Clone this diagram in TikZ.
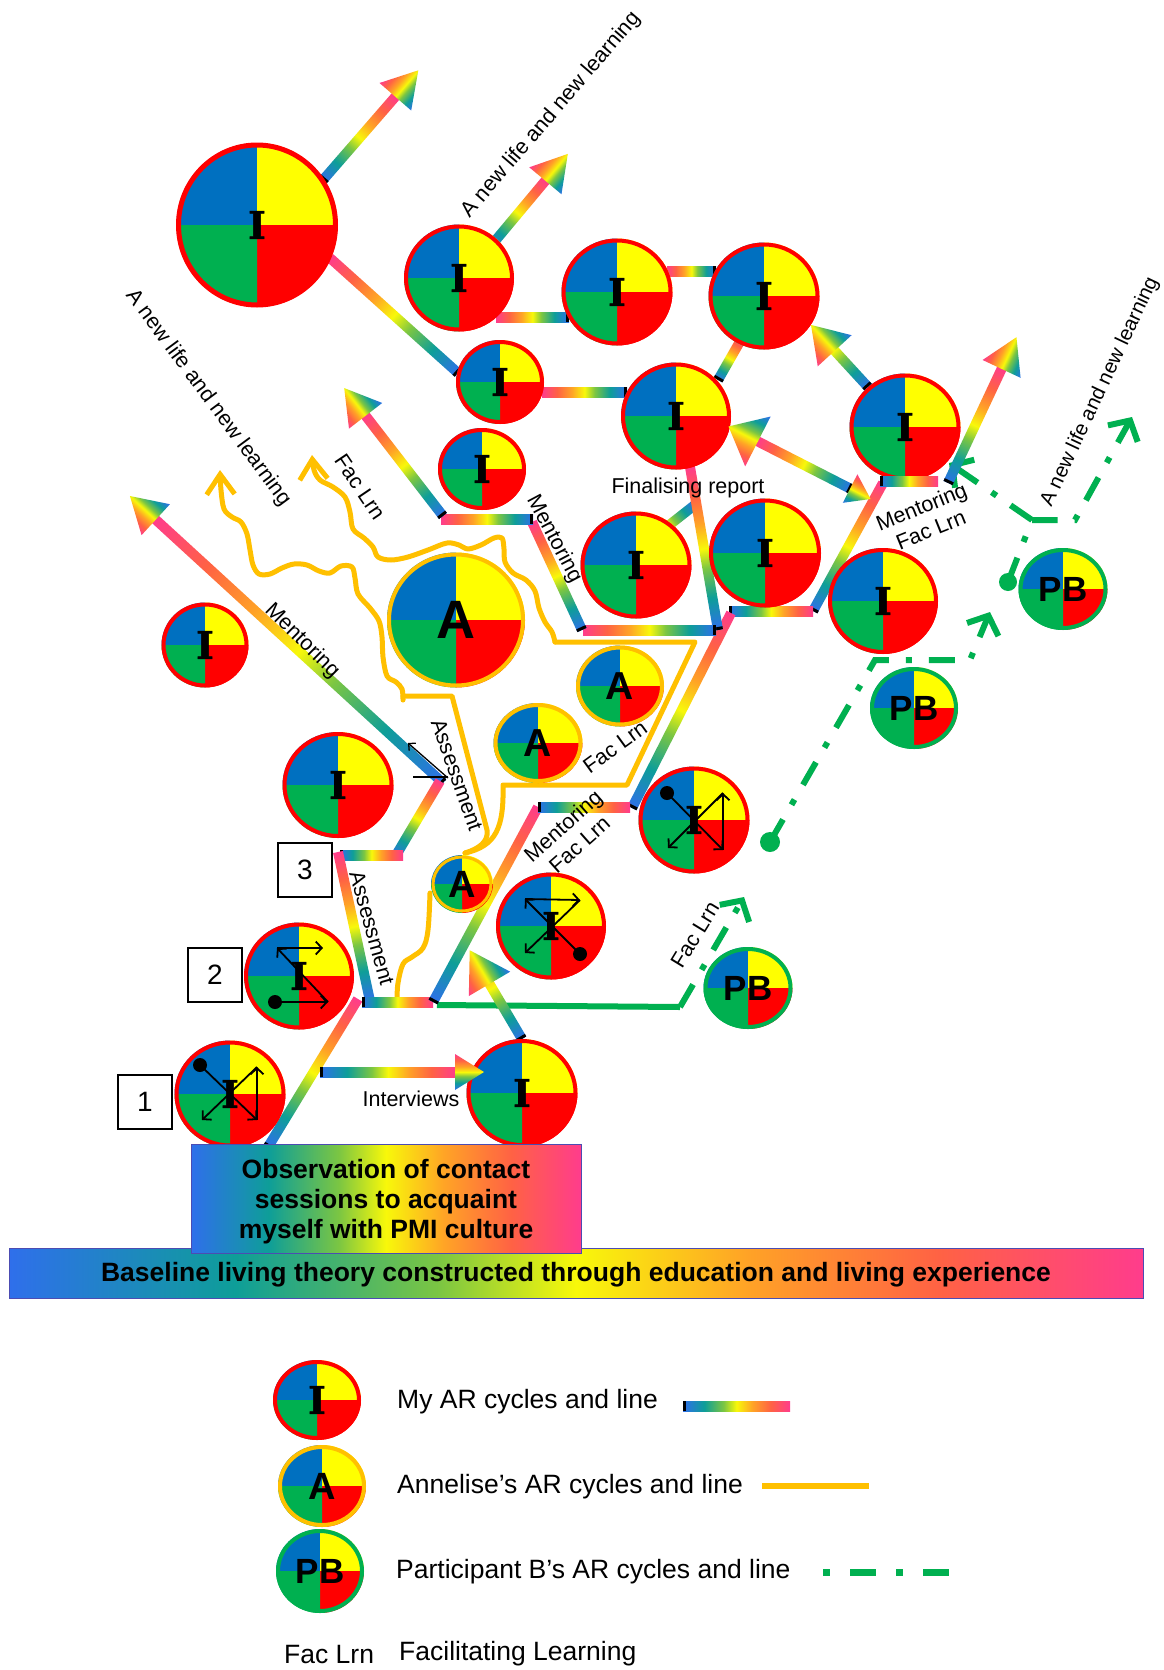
\documentclass[tikz,border=0pt]{standalone}
\usepackage{fontspec}
\setmainfont{Liberation Sans}
\newfontfamily\ifont{DejaVu Serif}[FakeBold=1.6]
\usetikzlibrary{calc,arrows.meta}
\definecolor{qB}{HTML}{0070C0}
\definecolor{qY}{HTML}{FFFF00}
\definecolor{qR}{HTML}{FF0000}
\definecolor{qG}{HTML}{00B050}
\definecolor{annO}{HTML}{FFC000}
\definecolor{pbG}{HTML}{00B050}
\definecolor{rbB}{HTML}{2F6FEB}
\definecolor{rbT}{HTML}{0E9E98}
\definecolor{rbG}{HTML}{7CC642}
\definecolor{rbY}{HTML}{F8F80A}
\definecolor{rbO}{HTML}{FFA326}
\definecolor{rbR}{HTML}{FF6244}
\definecolor{rbP}{HTML}{FF3C8C}
\pgfdeclarehorizontalshading{rainbow}{100bp}{color(0bp)=(rbB); color(25bp)=(rbB); color(35bp)=(rbT); color(44bp)=(rbG); color(50bp)=(rbY); color(57.5bp)=(rbO); color(66bp)=(rbR); color(75bp)=(rbP); color(100bp)=(rbP)}
\newcommand\rbAngLen[2]{%
  \pgfpointdiff{\pgfpointanchor{#1}{center}}{\pgfpointanchor{#2}{center}}%
  \pgfgetlastxy{\rbdx}{\rbdy}%
  \pgfmathsetmacro\rbAng{atan2(\rbdy,\rbdx)}%
  \pgfmathsetmacro\rbLen{veclen(\rbdx,\rbdy)}}
% rainbow bar: [fraction of gradient shown]{blue end}{pink end}
\newcommand\rbar[3][1]{%
  \rbAngLen{#2}{#3}%
  \begin{scope}[transform canvas={shift={(#2)},rotate=\rbAng}]
    \clip (0pt,-6pt) rectangle ({\rbLen*1pt},6pt);
    \shade[shading=rainbow] (0pt,-5pt) rectangle ({\rbLen/#1*1pt},5pt);
    \fill[black] (0pt,-5pt) rectangle (3pt,5pt);
  \end{scope}}
% rainbow arrow head: {from}{base}{length}{half width}
\newcommand\rhead[4]{%
  \rbAngLen{#1}{#2}%
  \begin{scope}[transform canvas={shift={(#2)},rotate=\rbAng}]
    \shade[shading=rainbow,shading angle=90] (-1pt,-#4pt) -- (#3pt,0pt) -- (-1pt,#4pt) -- cycle;
  \end{scope}}
% quartered circle: name, x, y, rx, ry, border style, label
\newcommand\qcirc[7]{%
  \begin{scope}[shift={(#2,#3)}]
    \fill[qB] (0,0) -- (-#4,0) arc[start angle=180,end angle=270,x radius=#4,y radius=#5] -- cycle;
    \fill[qY] (0,0) -- (0,-#5) arc[start angle=270,end angle=360,x radius=#4,y radius=#5] -- cycle;
    \fill[qR] (0,0) -- (#4,0) arc[start angle=0,end angle=90,x radius=#4,y radius=#5] -- cycle;
    \fill[qG] (0,0) -- (0,#5) arc[start angle=90,end angle=180,x radius=#4,y radius=#5] -- cycle;
    \draw[#6] (0,0) ellipse[x radius=#4-2,y radius=#5-2];
  \end{scope}
  \node[inner sep=0pt,minimum width=2*#4,minimum height=2*#5] (#1) at (#2,#3) {#7};}
\newcommand\Ilab{{\ifont\bfseries\fontsize{38}{38}\selectfont I}}
\newcommand\Alab[1]{{\bfseries\fontsize{#1}{#1}\selectfont A}}
\newcommand\PBlab{{\bfseries\fontsize{35}{35}\selectfont PB}}
\begin{document}
\begin{tikzpicture}[x=1pt,y=-1pt,
  iborder/.style={draw=qR,line width=4pt},
  aborder/.style={draw=annO,line width=4pt},
  pborder/.style={draw=pbG,line width=4pt},
  annl/.style={draw=annO,line width=5pt,line join=round,line cap=round},
  pbdash/.style={draw=pbG,line width=6pt,dash pattern=on 26pt off 17pt on 6pt off 17pt},
  pbtip/.style={-{Straight Barb[length=15pt,width=34pt]}},
  antip/.style={-{Straight Barb[length=20pt,width=28pt]}},
  ic/.style={draw=black,line width=1.8pt,-{Straight Barb[length=6pt,width=13pt]}},
  lab/.style={font=\fontsize{21.5}{25}\selectfont,inner sep=0pt},
  numbox/.style={draw=black,line width=2pt,minimum size=54pt,inner sep=0pt,font=\fontsize{28}{28}\selectfont},
]
\useasboundingbox (0,0) rectangle (1163,1670);
\fill[white] (0,0) rectangle (1163,1670);

% ---------- coordinates of the rainbow connectors ----------
\coordinate (b1b) at (323,180);  \coordinate (b1p) at (396,96);
\coordinate (b2b) at (490,247);  \coordinate (b2p) at (546,180);
\coordinate (b3b) at (458,373);  \coordinate (b3p) at (330,258);
\coordinate (b4b) at (569,317);  \coordinate (b4p) at (496,317);
\coordinate (b5b) at (716,271);  \coordinate (b5p) at (667,271);
\coordinate (b6b) at (627,392);  \coordinate (b6p) at (542,392);
\coordinate (b7b) at (718,380);  \coordinate (b7p) at (742,338);
\coordinate (b8b) at (868,387);  \coordinate (b8h) at (834,350);
\coordinate (b9b) at (851,489);  \coordinate (b9p) at (757,441);
\coordinate (b10p) at (948,483); \coordinate (b10b) at (1002,368);
\coordinate (b11p) at (880,481); \coordinate (b11b) at (938,481);
\coordinate (b12p) at (813,611); \coordinate (b12b) at (883,483);
\coordinate (b13p) at (729,611); \coordinate (b13b) at (813,611);
\coordinate (b14b) at (632,808); \coordinate (b14p) at (731,613);
\coordinate (b15b) at (718,630); \coordinate (b15p) at (690,467);
\coordinate (b16b) at (716,630); \coordinate (b16p) at (583,630);
\coordinate (b17b) at (582,630); \coordinate (b17p) at (532,522);
\coordinate (b18b) at (533,519); \coordinate (b18p) at (441,519);
\coordinate (b19b) at (443,516); \coordinate (b19p) at (365,415);
\coordinate (b20b) at (443,783); \coordinate (b20p) at (155,519);
\coordinate (b21b) at (395,857); \coordinate (b21p) at (440,781);
\coordinate (b22b) at (340,855); \coordinate (b22p) at (403,855);
\coordinate (b23b) at (370,1001); \coordinate (b23p) at (338,852);
\coordinate (b24b) at (362,1002); \coordinate (b24p) at (433,1002);
\coordinate (b25b) at (268,1147); \coordinate (b25p) at (358,999);
\coordinate (b26b) at (433,1002); \coordinate (b26p) at (538,807);
\coordinate (b27b) at (538,807); \coordinate (b27p) at (630,807);
\coordinate (b28b) at (320,1072); \coordinate (b28p) at (456,1072);
\coordinate (b29b) at (522,1039); \coordinate (b29h) at (489,983);
\coordinate (b30b) at (696,504); \coordinate (b30p) at (640,548);
\coordinate (lgb) at (683,1406);  \coordinate (lgp) at (790,1406);

% ---------- Annelise's line ----------
\draw[annl,antip] plot[smooth,tension=0.55] coordinates {(403,700) (402,689) (396,682) (387,676) (383,657) (382,637) (379,621) (370,608) (358,594) (355,578) (352,567) (341,566) (330,573) (319,571) (307,565) (294,564) (282,568) (270,574) (259,574) (253,565) (250,550) (247,534) (241,522) (232,517) (224,509) (221,490) (220,470)};
\draw[annl,antip] plot[smooth,tension=0.55] coordinates {(555,642) (552,632) (545,622) (539,608) (535,591) (526,580) (513,573) (505,562) (504,549) (502,538) (494,538) (481,545) (468,549) (459,545) (447,543) (428,550) (408,557) (391,560) (378,557) (373,547) (364,538) (353,529) (350,512) (345,497) (333,487) (320,480) (314,470) (312,455)};
\draw[annl] (403,696) -- (452,696) -- (487,830) .. controls (489,842) and (478,849) .. (465,853);
\draw[annl] (555,642) -- (695,642) -- (627,785) -- (503,785) .. controls (504,828) and (496,846) .. (465,853);
\draw[annl] plot[smooth,tension=0.6] coordinates {(430,893) (428,930) (423,948) (412,957) (403,964) (398,983) (397,999)};

% ---------- Participant B's line ----------
\coordinate (pbd1) at (770,842); \coordinate (pbd2) at (1008,582); \coordinate (pbj) at (1032,520);
\draw[draw=pbG,line width=6pt] (437,1005) -- (680,1007);
\draw[pbdash,pbtip] (680,1007) -- (744,897);
\fill[pbG] (pbd1) circle[radius=10];
\draw[pbdash,pbtip] (pbd1) -- (875,660) -- (970,660) -- (990,612);
\fill[pbG] (pbd2) circle[radius=9];
\draw[pbdash,pbtip] (pbd2) -- (pbj) -- (1075,520) -- (1132,417);
\draw[pbdash,pbtip] (pbj) -- (949,463);

% ---------- rainbow connectors (under circles) ----------
\rbar{b1b}{b1p}
\rbar{b2b}{b2p}
\rbar{b3b}{b3p}
\rbar{b4b}{b4p}
\rbar{b5b}{b5p}
\rbar{b6b}{b6p}
\rbar{b7b}{b7p}
\rbar[0.5]{b8b}{b8h}
\rbar{b9b}{b9p}
\rbar{b10p}{b10b}
\rbar{b12p}{b12b}
\rbar{b13p}{b13b}
\rbar{b14b}{b14p}
\rbar{b30b}{b30p}
\rbar{b15b}{b15p}
\rbar{b16b}{b16p}
\rbar{b17b}{b17p}
\rbar{b18b}{b18p}
\rbar{b19b}{b19p}
\rbar{b20b}{b20p}
\rbar{b21b}{b21p}
\rbar{b22b}{b22p}
\rbar{b23b}{b23p}
\rbar{b25b}{b25p}
\rbar{b24b}{b24p}
\rbar{b26b}{b26p}
\rbar{b27b}{b27p}
\rbar[0.55]{b29b}{b29h}

% ---------- circles ----------
\qcirc{iBig}{257}{225}{80.5}{82}{qR,line width=5pt}{\Ilab}
\qcirc{i2}{459}{278}{55}{53.5}{iborder}{\Ilab}
\qcirc{i3}{617}{292}{55.5}{53.5}{iborder}{\Ilab}
\qcirc{i4}{764}{296}{55.5}{53.5}{iborder}{\Ilab}
\qcirc{i5}{500}{382}{44}{42}{iborder}{\Ilab}
\qcirc{i6}{676}{416}{55}{53.5}{iborder}{\Ilab}
\qcirc{i7}{482}{469}{44}{41}{iborder}{\Ilab}
\qcirc{i8}{905}{427}{55.5}{53.5}{iborder}{\Ilab}
\qcirc{i9}{636}{565}{55.5}{53.5}{iborder}{\Ilab}
\qcirc{i10}{765}{553}{56}{54.5}{iborder}{\Ilab}
\qcirc{i11}{883}{601}{55}{53}{iborder}{\Ilab}
\qcirc{i15}{205}{645}{43.5}{42.5}{iborder}{\Ilab}
\qcirc{i16}{338}{785}{55.5}{53}{iborder}{\Ilab}
\qcirc{i17}{694}{820}{55.5}{53.5}{iborder}{\Ilab}
\qcirc{i19}{551}{926}{55}{53.5}{iborder}{\Ilab}
\qcirc{i20}{299}{976}{55}{53.5}{iborder}{\Ilab}
\qcirc{i21}{230}{1094}{55.5}{53.5}{iborder}{\Ilab}
\qcirc{i22}{522}{1093}{55.5}{54}{iborder}{\Ilab}
\qcirc{aBig}{456}{620}{69}{67.5}{aborder}{\Alab{54}}
\qcirc{a13}{620}{686}{44}{40.5}{aborder}{\Alab{39}}
\qcirc{a14}{538}{743}{44.5}{40}{aborder}{\Alab{39}}
\qcirc{a18}{462}{884}{31}{29}{aborder,line width=3pt}{\Alab{38}}
\qcirc{pb23}{748}{988}{44.5}{41}{pborder}{\PBlab}
\qcirc{pb24}{914}{708}{44}{41}{pborder}{\PBlab}
\qcirc{pb25}{1063}{589}{44.5}{41}{pborder}{\PBlab}

% ---------- connectors and heads above circles ----------
\rbar{b11p}{b11b}
\rbar{b28b}{b28p}
\rhead{b1b}{b1p}{34}{21}
\rhead{b2b}{b2p}{34}{21}
\rhead{b8b}{b8h}{34}{23}
\rhead{b9b}{b9p}{32}{28}
\rhead{b9p}{b9b}{22}{16}
\rhead{b10p}{b10b}{34}{21}
\rhead{b19b}{b19p}{34}{21}
\rhead{b20b}{b20p}{34}{21}
\rhead{b28b}{b28p}{28}{18}
\rhead{b29b}{b29h}{38}{24}

% ---------- black cycle icons ----------
\fill (200,1065) circle[radius=7];
\draw[ic] (200,1065) -- (257,1120); \draw[ic] (257,1120) -- (257,1067); \draw[ic] (257,1067) -- (202,1120);
\fill (667,793) circle[radius=7];
\draw[ic] (667,793) -- (723,850); \draw[ic] (723,850) -- (723,793); \draw[ic] (723,793) -- (668,848);
\fill (275,1002) circle[radius=7];
\draw[ic] (275,1002) -- (328,1002); \draw[ic] (328,1002) -- (277,948); \draw[ic] (277,948) -- (323,948);
\fill (580,954) circle[radius=7];
\draw[ic] (580,954) -- (525,899); \draw[ic] (525,899) -- (580,900); \draw[ic] (580,900) -- (525,953);
\draw[line width=1.3pt,-{Straight Barb[length=5pt,width=10pt]}] (448,778) -- (408,743);
\draw[line width=1.3pt] (413,777) -- (448,777);

% ---------- bottom boxes ----------
\shade[shading=rainbow,draw=gray!60!blue,line width=1pt] (9,1248) rectangle (1143,1298);
\node[font=\bfseries\fontsize{26.5}{30}\selectfont,inner sep=0pt] (base) at (576,1275) {Baseline living theory constructed through education and living experience};
\shade[shading=rainbow,draw=gray!60!blue,line width=1pt] (191,1144) rectangle (581,1253);
\node[font=\bfseries\fontsize{26.5}{30}\selectfont,align=center,inner sep=0pt] (obs) at (386,1202) {Observation of contact\\sessions to acquaint\\myself with PMI culture};

% ---------- labels ----------
\node[lab,rotate=49.4] (t1) at (551,115) {A new life and new learning};
\node[lab,rotate=-53.5] (t2) at (208,398) {A new life and new learning};
\node[lab,rotate=64.8,font=\fontsize{20.5}{24}\selectfont] (t3) at (1100,392) {A new life and new learning};
\node[lab,rotate=-56] (t4) at (360,487) {Fac Lrn};
\node[lab,rotate=-44.6] (t5) at (302,641) {Mentoring};
\node[lab,rotate=-70.5] (t6) at (457,775) {Assessment};
\node[lab,rotate=-74.4] (t7) at (372,928) {Assessment};
\node[lab,rotate=-62] (t8) at (554,539) {Mentoring};
\node[lab] (t9) at (688,488) {Finalising report};
\node[lab,rotate=22,align=center] (t10) at (926,518) {Mentoring\\Fac Lrn};
\node[lab,rotate=41.5,align=center] (t11) at (571,835) {Mentoring\\Fac Lrn};
\node[lab,rotate=36] (t12) at (615,747) {Fac Lrn};
\node[lab,rotate=58.6] (t13) at (695,935) {Fac Lrn};
\node[lab] (t14) at (411,1099) {Interviews};

\node[numbox] (n3) at (305,870) {3};
\node[numbox] (n2) at (215,975) {2};
\node[numbox] (n1) at (145,1102) {1};

% ---------- legend ----------
\qcirc{lgI}{317}{1400}{44}{40}{iborder}{\Ilab}
\qcirc{lgA}{322}{1486}{44}{41}{aborder}{\Alab{38}}
\qcirc{lgPB}{320}{1571}{44}{42}{pborder}{\PBlab}
\node[anchor=west,font=\fontsize{26.5}{30}\selectfont,inner sep=0pt] (l1) at (397,1402) {My AR cycles and line};
\node[anchor=west,font=\fontsize{26.5}{30}\selectfont,inner sep=0pt] (l2) at (397,1487) {Annelise’s AR cycles and line};
\node[anchor=west,font=\fontsize{26.5}{30}\selectfont,inner sep=0pt] (l3) at (396,1572) {Participant B’s AR cycles and line};
\node[anchor=west,font=\fontsize{26.5}{30}\selectfont,inner sep=0pt] (l4a) at (284,1654) {Fac Lrn};
\node[anchor=west,font=\fontsize{26.5}{30}\selectfont,inner sep=0pt] (l4b) at (399,1654) {Facilitating Learning};
\rbar{lgb}{lgp}
\coordinate (lga1) at (762,1486); \coordinate (lga2) at (869,1486);
\draw[draw=annO,line width=6pt] (lga1) -- (lga2);
\coordinate (lgp1) at (823,1572); \coordinate (lgp2) at (950,1572);
\draw[draw=pbG,line width=7pt,dash pattern=on 7pt off 20pt on 26pt off 20pt] (lgp1) -- (lgp2);
\end{tikzpicture}
\end{document}
